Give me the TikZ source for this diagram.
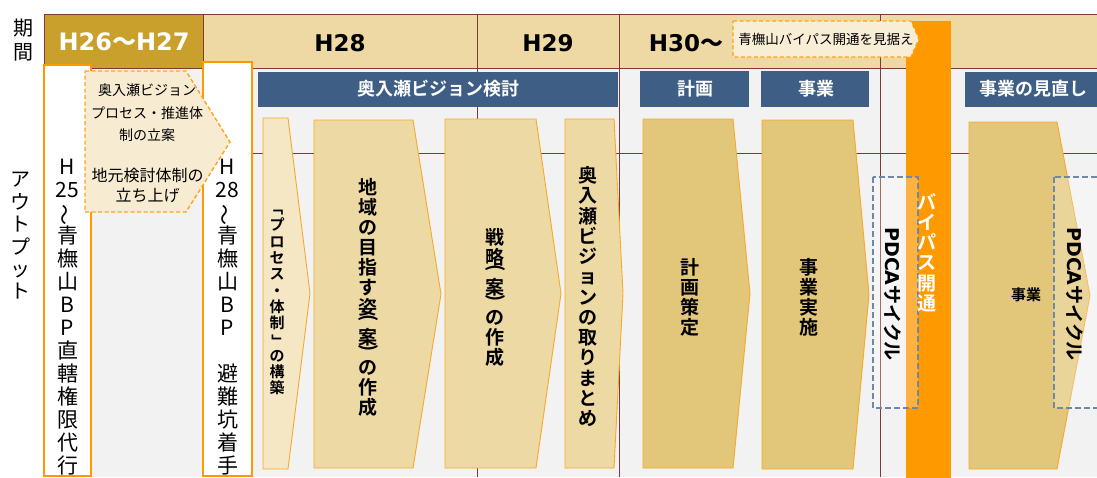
\documentclass[tikz,border=0pt]{standalone}
\usepackage{fontspec}
\usepackage{graphicx}
\setmainfont{Noto Sans CJK JP}
\newfontfamily\jp{Noto Sans CJK JP}
\newfontfamily\jpb{Noto Sans CJK JP Bold}
\newfontfamily\dv{DejaVu Sans}
\definecolor{hdrgold}{HTML}{C9A02C}
\definecolor{hdrlight}{HTML}{EED9A5}
\definecolor{bodygray}{HTML}{F2F2F2}
\definecolor{gridc}{HTML}{7E3A3A}
\definecolor{barblue}{HTML}{3F5E85}
\definecolor{orng}{HTML}{FF9900}
\definecolor{orngdash}{HTML}{FFA31A}
\definecolor{cream}{HTML}{F7EBD2}
\definecolor{calloutc}{HTML}{F8EDD5}
\definecolor{chevone}{HTML}{F5E6C4}
\definecolor{chevtwo}{HTML}{EDD9A4}
\definecolor{chevthree}{HTML}{E2C679}
\definecolor{chevline}{HTML}{F7A928}
\definecolor{pdcac}{HTML}{6F87A8}
\newcommand{\mychev}[6]{\draw[#6] (#1,#4) -- (#2,#4) -- (#3,{(#4+#5)/2}) -- (#2,#5) -- (#1,#5) -- cycle;}
\newcommand{\vwave}{\rotatebox[origin=c]{90}{～}}
\newcommand{\vrot}[1]{\rotatebox[origin=c]{-90}{#1}}
\begin{document}
\begin{tikzpicture}[x=1pt,y=-1pt,
  gridline/.style={draw=gridc, line width=0.9pt},
  wbox/.style={fill=white, draw=orng, line width=1.8pt},
  dpent/.style={fill=cream, draw=orngdash, line width=1.4pt, dash pattern=on 4pt off 2.5pt},
  callout/.style={fill=calloutc, draw=orngdash, line width=1.4pt, dash pattern=on 4pt off 2.5pt},
  chevA/.style={fill=chevone, draw=chevline, line width=0.9pt},
  chevB/.style={fill=chevtwo, draw=chevline, line width=0.9pt},
  chevC/.style={fill=chevthree, draw=chevline, line width=0.9pt},
  pdcabox/.style={draw=pdcac, line width=1.8pt, dash pattern=on 6pt off 3pt, fill=white, fill opacity=0.25},
  hdr/.style={font=\dv\bfseries\fontsize{23}{26}\selectfont, inner sep=0pt},
  barlbl/.style={text=white, font=\jpb\fontsize{18}{20}\selectfont, inner sep=0pt},
  vtxt/.style={align=center, inner sep=0pt},
  chevtxt/.style={vtxt, font=\jpb\fontsize{19}{20}\selectfont},
  pdcatxt/.style={rotate=-90, inner sep=0pt, font=\fontsize{19}{20}\selectfont}
]
\useasboundingbox (0,0) rectangle (1097,477);
\clip (0,0) rectangle (1097,477);
\fill[white] (0,0) rectangle (1097,477);
% header and body
\fill[hdrlight] (44,14) rectangle (1097,68);
\fill[hdrgold] (44,14) rectangle (203,68);
\fill[bodygray] (44,68) rectangle (1097,477);
% grid
\draw[gridline] (44,14) -- (1097,14);
\draw[gridline] (44,68) -- (1097,68);
\draw[gridline] (44,153) -- (1097,153);
\draw[gridline] (44,14) -- (44,68);
\draw[gridline] (203,14) -- (203,68);
\draw[gridline] (477,14) -- (477,477);
\draw[gridline] (619,14) -- (619,477);
\draw[gridline] (880,14) -- (880,477);
% blue bars
\fill[barblue] (258,72) rectangle (618,107);
\fill[barblue] (640,71) rectangle (749,107);
\fill[barblue] (761,71) rectangle (869,107);
\fill[barblue] (965,72) rectangle (1100,107);
% left white boxes
\draw[wbox] (44,65) rectangle (91,476);
\draw[wbox] (203,62) rectangle (252,476);
% dashed pentagon
\draw[dpent] (85,71) -- (186,71) -- (230,142) -- (186,212) -- (85,212) -- cycle;
% chevrons
\mychev{263}{288}{310}{118}{469}{chevA}
\mychev{314}{413}{441}{120}{468}{chevB}
\mychev{445}{536}{561}{119}{468}{chevB}
\mychev{565}{614}{623}{119}{468}{chevB}
\mychev{643}{733}{750}{119}{468}{chevC}
\mychev{762}{853}{869}{120}{469}{chevC}
\mychev{969}{1057}{1090}{122}{469}{chevC}
% orange bar and callout
\fill[orng] (906,21) rectangle (951,480);
\draw[callout] (733,21) -- (911,21) -- (919,39) -- (911,57) -- (733,57) -- cycle;
% PDCA boxes
\draw[pdcabox] (873,177) rectangle (918,408);
\draw[pdcabox] (1054,177) rectangle (1110,408);
% texts
\node[vtxt, font=\jp\fontsize{20}{24}\selectfont] (kikan) at (23,40) {期\\間};
\node[vtxt, font=\jp\fontsize{20}{22.4}\selectfont] (output) at (20,236) {ア\\ウ\\ト\\プ\\ッ\\ト};
\node[hdr, text=white, font=\dv\bfseries\fontsize{24}{26}\selectfont] (h2627) at (124,42) {H26{\jpb ～}H27};
\node[hdr] (h28) at (340,43) {H28};
\node[hdr] (h29) at (548,43) {H29};
\node[hdr] (h30) at (686,43) {H30{\jpb ～}};
\node[inner sep=0pt, font=\jp\fontsize{13.5}{15}\selectfont] (see) at (826,39) {青橅山バイパス開通を見据え};
\node[barlbl] (vis) at (438,89) {奥入瀬ビジョン検討};
\node[barlbl] (keikaku) at (695,89) {計画};
\node[barlbl] (jigyo) at (816,89) {事業};
\node[barlbl] (minaoshi) at (1033,89) {事業の見直し};
\node[vtxt, font=\jp\fontsize{21}{23}\selectfont] (bp1) at (67.5,317.5) {H\\25\\\vwave\\青\\橅\\山\\B\\P\\直\\轄\\権\\限\\代\\行};
\node[vtxt, font=\jp\fontsize{21}{23}\selectfont] (bp2) at (227.5,317.5) {H\\28\\\vwave\\青\\橅\\山\\B\\P\\\mbox{}\\避\\難\\坑\\着\\手};
\node[vtxt, font=\jp\fontsize{14}{22.5}\selectfont] (plan) at (147,113) {奥入瀬ビジョン\\プロセス・推進体\\制の立案};
\node[vtxt, font=\jp\fontsize{16}{20}\selectfont] (local) at (147.5,185) {地元検討体制の\\立ち上げ};
\node[vtxt, font=\jpb\fontsize{15}{16.3}\selectfont] (c1) at (277,298) {\vrot{「}\\プ\\ロ\\セ\\ス\\・\\体\\制\\\vrot{」}\\の\\構\\築};
\node[chevtxt] (c2) at (368,297) {地\\域\\の\\目\\指\\す\\姿\\[-10pt]\vrot{(}\\案\\[-10pt]\vrot{)}\\の\\作\\成};
\node[chevtxt] (c3) at (495,297) {戦\\略\\[-10pt]\vrot{(}\\案\\[-10pt]\vrot{)}\\の\\作\\成};
\node[chevtxt, font=\jpb\fontsize{19}{20.25}\selectfont] (c4) at (588,296.5) {奥\\入\\瀬\\ビ\\ジ\\ョ\\ン\\の\\取\\り\\ま\\と\\め};
\node[chevtxt] (c5) at (690,297) {計\\画\\策\\定};
\node[chevtxt] (c6) at (809,297) {事\\業\\実\\施};
\node[inner sep=0pt, font=\jpb\fontsize{15}{16}\selectfont] (c7) at (1026,295) {事業};
\node[vtxt, text=white, font=\jpb\fontsize{19}{20.2}\selectfont] (bypass) at (927,252.5) {バ\\イ\\パ\\ス\\開\\通};
\node[pdcatxt] (pdca1) at (893,294) {{\dv\bfseries PDCA}{\jpb サイクル}};
\node[pdcatxt] (pdca2) at (1075,294) {{\dv\bfseries PDCA}{\jpb サイクル}};
\end{tikzpicture}
\end{document}
